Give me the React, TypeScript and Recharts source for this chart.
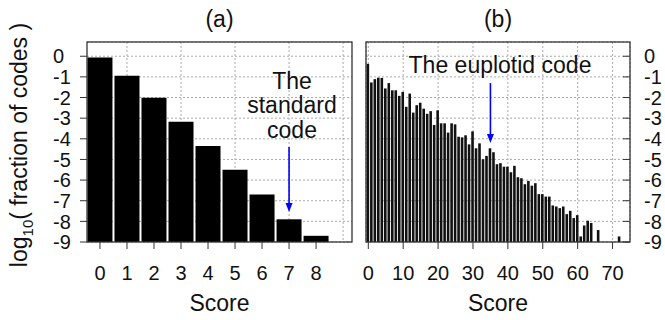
import { BarChart, Bar, XAxis, YAxis, CartesianGrid, ReferenceLine } from 'recharts'

// panel (a): scores 0..8
const SCORES_A = [0, 1, 2, 3, 4, 5, 6, 7, 8]
const LOG_FRAC_A = [-0.06, -0.95, -2.01, -3.17, -4.35, -5.5, -6.7, -7.9, -8.7]

// panel (b): scores 0..72, null where no code has that score
const SCORES_B = [
  0, 1, 2, 3, 4, 5, 6, 7, 8, 9, 10, 11, 12, 13, 14, 15, 16, 17, 18, 19, 20, 21, 22, 23, 24,
  25, 26, 27, 28, 29, 30, 31, 32, 33, 34, 35, 36, 37, 38, 39, 40, 41, 42, 43, 44, 45, 46, 47, 48,
  49, 50, 51, 52, 53, 54, 55, 56, 57, 58, 59, 60, 61, 62, 63, 64, 65, 66, 67, 68, 69, 70, 71, 72,
]
const LOG_FRAC_B: (number | null)[] = [
  -0.37, -1.27, -1.11, -1.04, -1.05, -1.56, -1.3, -1.65, -1.65, -1.92,
  -1.73, -2.45, -1.81, -2.73, -2.37, -2.25, -2.54, -2.79, -2.66, -3.33,
  -2.62, -3.25, -3.25, -3.7, -3.25, -3.3, -3.9, -3.93, -3.83, -4.27,
  -3.64, -4.46, -4.22, -4.99, -4.83, -4.46, -4.65, -5.23, -5.18, -5.35,
  -5.35, -5.62, -5.31, -5.86, -5.91, -6.2, -6.04, -6.27, -6.15, -6.68,
  -6.68, -6.8, -6.8, -7.23, -7.28, -7.36, -7.28, -7.65, -7.49, -7.84,
  -7.7, -8.73, -8.2, -7.97, -8.08, null, -8.42, null, null, null,
  null, null, -8.73,
]

const X_TICKS_A = [0, 1, 2, 3, 4, 5, 6, 7, 8]
const X_GRID_A = [1, 3, 5, 7, 9]
const X_TICKS_B = [0, 10, 20, 30, 40, 50, 60, 70]
const Y_TICKS = [0, -1, -2, -3, -4, -5, -6, -7, -8, -9]
const Y_BASE = -9

const STANDARD_SCORE = 7
const EUPLOTID_SCORE = 35

const dataA = SCORES_A.map((s, i) => ({ score: s, v: LOG_FRAC_A[i] }))
const dataB = SCORES_B.map((s, i) => ({ score: s, v: LOG_FRAC_B[i] }))

const FONT = '"Liberation Sans", Arial, Helvetica, sans-serif'
const W = 665
const H = 320
const TOP = 42
const BOTTOM = 242
const A_LEFT = 87
const A_RIGHT = 352
const B_LEFT = 366
const B_RIGHT = 630
const AXIS_W = 30
const AXIS_H = 40
const X_DOMAIN_A = [-0.48, 9.33]
const X_DOMAIN_B = [-0.66, 75]
const Y_DOMAIN = [-9, 0.69]

const rangeOf = (d: { v: number | null }) => (d.v == null ? null : [Y_BASE, d.v])

function LeftTick(props: any) {
  const { x, y, payload } = props
  return (
    <g>
      <line x1={x - 7} x2={x} y1={y} y2={y} stroke="#333" />
      <text x={x - 34} y={y} dy="0.36em" textAnchor="start" fontSize={20} fontFamily={FONT} fill="#111">
        {payload.value}
      </text>
    </g>
  )
}

function RightTick(props: any) {
  const { x, y, payload } = props
  return (
    <g>
      <line x1={x - 7} x2={x} y1={y} y2={y} stroke="#333" />
      <text x={x + 14} y={y} dy="0.36em" textAnchor="start" fontSize={20} fontFamily={FONT} fill="#111">
        {payload.value}
      </text>
    </g>
  )
}

function BottomTick(props: any) {
  const { x, y, payload } = props
  return (
    <g>
      <line x1={x} x2={x} y1={y} y2={y + 7} stroke="#333" />
      <text x={x} y={y + 38} textAnchor="middle" fontSize={20} fontFamily={FONT} fill="#111">
        {payload.value}
      </text>
    </g>
  )
}

function Arrow(props: any) {
  const { x1, y1, x2, y2 } = props
  return (
    <g>
      <line x1={x1} y1={y1} x2={x2} y2={y2 - 6} stroke="#0000ff" strokeWidth={1.6} />
      <polygon points={`${x2 - 3.5},${y2 - 9} ${x2 + 3.5},${y2 - 9} ${x2},${y2}`} fill="#0000ff" />
    </g>
  )
}

export default function App() {
  const gridA = X_GRID_A.map(
    (v) => A_LEFT + ((v - X_DOMAIN_A[0]) / (X_DOMAIN_A[1] - X_DOMAIN_A[0])) * (A_RIGHT - A_LEFT)
  )

  return (
    <div style={{ position: 'absolute', left: 0, top: 0, width: W, height: H, background: '#fff', fontFamily: FONT }}>
      <div style={{ position: 'absolute', left: 0, top: 0 }}>
        <BarChart
          width={W}
          height={H}
          data={dataA}
          margin={{ top: TOP, right: W - A_RIGHT, bottom: H - BOTTOM - AXIS_H, left: A_LEFT - AXIS_W }}
        >
          <CartesianGrid stroke="#aaa" strokeDasharray="2 2" verticalPoints={gridA} />
          <XAxis
            dataKey="score"
            type="number"
            domain={X_DOMAIN_A}
            ticks={X_TICKS_A}
            allowDataOverflow
            height={AXIS_H}
            tickSize={0}
            tickMargin={0}
            axisLine={false}
            tick={<BottomTick />}
            interval={0}
          />
          <YAxis
            type="number"
            domain={Y_DOMAIN}
            ticks={Y_TICKS}
            allowDataOverflow
            width={AXIS_W}
            tickSize={0}
            tickMargin={0}
            axisLine={false}
            tick={<LeftTick />}
            interval={0}
          />
          <Bar dataKey={rangeOf} fill="#000" barSize={25} isAnimationActive={false} />
          <ReferenceLine
            segment={[{ x: STANDARD_SCORE, y: -4.4 }, { x: STANDARD_SCORE, y: -7.55 }]}
            shape={<Arrow />}
          />
        </BarChart>
      </div>
      <div style={{ position: 'absolute', left: 0, top: 0 }}>
        <BarChart
          width={W}
          height={H}
          data={dataB}
          margin={{ top: TOP, right: W - B_RIGHT - AXIS_W, bottom: H - BOTTOM - AXIS_H, left: B_LEFT }}
        >
          <CartesianGrid stroke="#aaa" strokeDasharray="2 2" />
          <XAxis
            dataKey="score"
            type="number"
            domain={X_DOMAIN_B}
            ticks={X_TICKS_B}
            allowDataOverflow
            height={AXIS_H}
            tickSize={0}
            tickMargin={0}
            axisLine={false}
            tick={<BottomTick />}
            interval={0}
          />
          <YAxis
            orientation="right"
            type="number"
            domain={Y_DOMAIN}
            ticks={Y_TICKS}
            allowDataOverflow
            width={AXIS_W}
            tickSize={0}
            tickMargin={0}
            axisLine={false}
            tick={<RightTick />}
            interval={0}
          />
          <Bar dataKey={rangeOf} fill="#111" barSize={2.6} isAnimationActive={false} />
          <ReferenceLine
            segment={[{ x: EUPLOTID_SCORE, y: -1.3 }, { x: EUPLOTID_SCORE, y: -4.2 }]}
            shape={<Arrow />}
          />
        </BarChart>
      </div>
      <svg width={W} height={H} style={{ position: 'absolute', left: 0, top: 0, pointerEvents: 'none' }} fontFamily={FONT}>
        <rect x={A_LEFT} y={TOP} width={A_RIGHT - A_LEFT} height={BOTTOM - TOP} fill="none" stroke="#333" strokeWidth={1.3} />
        <rect x={B_LEFT} y={TOP} width={B_RIGHT - B_LEFT} height={BOTTOM - TOP} fill="none" stroke="#333" strokeWidth={1.3} />
        <text x={(A_LEFT + A_RIGHT) / 2} y={27} textAnchor="middle" fontSize={23} fill="#111">(a)</text>
        <text x={(B_LEFT + B_RIGHT) / 2} y={27} textAnchor="middle" fontSize={23} fill="#111">(b)</text>
        <text x={(A_LEFT + A_RIGHT) / 2} y={311} textAnchor="middle" fontSize={23} fill="#111">Score</text>
        <text x={(B_LEFT + B_RIGHT) / 2} y={311} textAnchor="middle" fontSize={23} fill="#111">Score</text>
        <text transform="translate(27,145) rotate(-90)" textAnchor="middle" fontSize={23} fill="#111">
          log<tspan fontSize={15} dy={6}>10</tspan><tspan dy={-6}>( fraction of codes )</tspan>
        </text>
        <text x={292} y={89} textAnchor="middle" fontSize={23} fill="#111">The</text>
        <text x={292} y={113} textAnchor="middle" fontSize={23} fill="#111">standard</text>
        <text x={292} y={138} textAnchor="middle" fontSize={23} fill="#111">code</text>
        <text x={500} y={73} textAnchor="middle" fontSize={23} fill="#111">The euplotid code</text>
      </svg>
    </div>
  )
}
